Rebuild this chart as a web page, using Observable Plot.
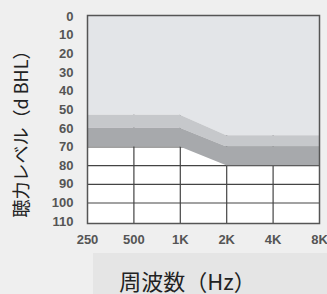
<!DOCTYPE html>
<html>
<head>
<meta charset="utf-8">
<script src="https://cdn.jsdelivr.net/npm/d3@7"></script>
<script src="https://cdn.jsdelivr.net/npm/@observablehq/plot@0.6"></script>
<style>
  html, body { margin: 0; padding: 0; background: #efefef; }
  #wrap { position: relative; width: 327px; height: 294px; overflow: hidden; }
  #shade { position: absolute; left: 93px; top: 253px; width: 234px; height: 41px; background: #e5e5e5; }
  #chart { position: absolute; left: 0; top: 0; }
</style>
</head>
<body>
<div id="wrap"><div id="shade"></div><div id="chart"></div></div>
<script>
const freqs = [250, 500, 1000, 2000, 4000, 8000];
const freqLabels = ["250", "500", "1K", "2K", "4K", "8K"];
const levelTicks = [0, 10, 20, 30, 40, 50, 60, 70, 80, 90, 100, 110];
const bandTop = [53, 53, 53, 64, 64, 64];
const bandMid = [60, 60, 60, 70, 70, 70];
const bandBottom = [70, 70, 70, 80, 80, 80];
const innerGridX = [500, 1000, 2000, 4000];
const innerGridY = [70, 80, 90, 100];

const rows = freqs.map((f, i) => ({f, top: bandTop[i], mid: bandMid[i], bottom: bandBottom[i]}));

const tickFamily = "'Liberation Sans', Arial, sans-serif";
const jpFamily = "'Noto Sans CJK JP', sans-serif";

const chart = Plot.plot({
  width: 327,
  height: 294,
  marginLeft: 87,
  marginRight: 8,
  marginTop: 15,
  marginBottom: 71,
  style: {background: "transparent", overflow: "visible"},
  x: {type: "log", domain: [250, 8000], axis: null},
  y: {domain: [-0.5, 111], reverse: true, axis: null},
  marks: [
    Plot.frame({fill: "white"}),
    Plot.ruleX(innerGridX, {stroke: "#444", strokeWidth: 1.2}),
    Plot.ruleY(innerGridY, {stroke: "#444", strokeWidth: 1.2}),
    Plot.areaY(rows, {x: "f", y1: -0.5, y2: "top", fill: "#e3e5e8"}),
    Plot.areaY(rows, {x: "f", y1: "top", y2: "mid", fill: "#c6c8cb"}),
    Plot.areaY(rows, {x: "f", y1: "mid", y2: "bottom", fill: "#a7a9ac"}),
    Plot.frame({stroke: "#555", strokeWidth: 1.5}),
    Plot.text(levelTicks, {
      y: d => d, text: d => String(d), frameAnchor: "left", dx: -14, textAnchor: "end",
      fill: "#555", fontSize: 13, fontWeight: "bold", fontFamily: tickFamily
    }),
    Plot.text(freqs, {
      x: d => d, text: (d, i) => freqLabels[i], frameAnchor: "bottom", dy: 20,
      fill: "#555", fontSize: 13, fontWeight: "bold", fontFamily: tickFamily
    }),
    Plot.text(["聴力レベル（d BHL）"], {
      frameAnchor: "left", textAnchor: "middle", dx: -65, dy: 10, rotate: -90, fontSize: 18,
      fill: "#222", fontFamily: jpFamily
    }),
    Plot.text(["周波数（Hz）"], {
      frameAnchor: "bottom", dy: 66, dx: -16, fontSize: 22,
      fill: "#222", fontFamily: jpFamily
    })
  ]
});
document.getElementById("chart").appendChild(chart);
</script>
</body>
</html>
